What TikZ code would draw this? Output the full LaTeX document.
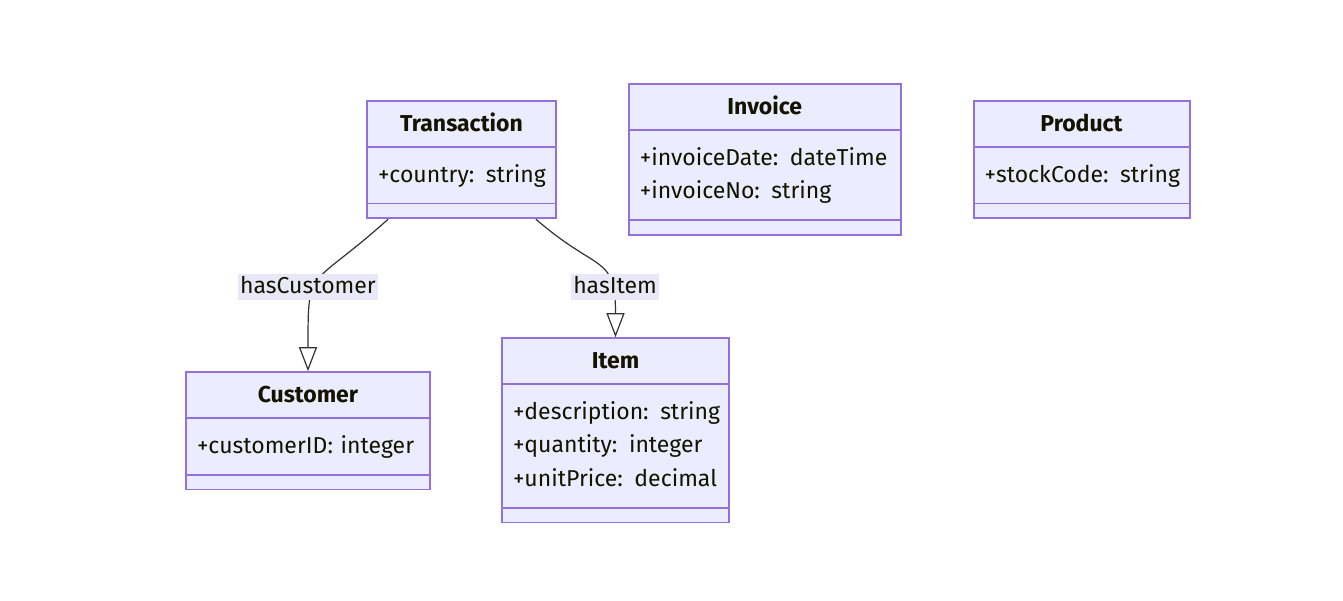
\documentclass[tikz,border=0pt]{standalone}
\usepackage{fontspec}
\setmainfont{Fira Sans}
\usetikzlibrary{arrows.meta, backgrounds, positioning, shapes.multipart}
\definecolor{classfill}{RGB}{236,236,255}
\definecolor{classline}{RGB}{147,112,219}
\definecolor{classtext}{RGB}{19,19,0}
\definecolor{relline}{RGB}{51,51,51}
\definecolor{relfill}{RGB}{232,232,248}
\newcommand{\titlestrut}{\rule[-4pt]{0pt}{15.5pt}}
\newcommand{\firstattr}{\rule{0pt}{14pt}}
\newcommand{\lastattr}{\rule[-7pt]{0pt}{7pt}}
\newcommand{\classtitle}[1]{\hspace*{\fill}\textbf{#1}\titlestrut\hspace*{\fill}}
\tikzstyle{umlclass}=[rectangle split, rectangle split parts=3, draw=classline, fill=classfill, line width=0.9pt, inner xsep=5.5pt, inner ysep=3.25pt, rectangle split empty part height=0pt, rectangle split empty part depth=0pt, align=left, text=classtext, font=\fontsize{11.5}{16.75}\selectfont]
\tikzstyle{rellabel}=[fill=relfill, inner xsep=1pt, inner ysep=0pt, text height=9.5pt, text depth=3.5pt, text=classtext, font=\fontsize{11.5}{14}\selectfont]
\tikzstyle{assoc}=[draw=relline, line width=0.6pt, -{Triangle[open, length=12pt, width=9pt]}]

\begin{document}
\begin{tikzpicture}[node distance=35.5pt]
      \useasboundingbox (0,0) rectangle (671.5pt,-300pt);

      \node[umlclass, text width=83.5pt, anchor=north] (trans) at (230.75pt,-50pt)
        {\classtitle{Transaction}
         \nodepart{second}\firstattr\mbox{+country: string}\lastattr
         \nodepart{third}};
      \node[umlclass, text width=125pt, right=of trans.north east, anchor=north west, yshift=8.5pt] (inv)
        {\classtitle{Invoice}
         \nodepart{second}\firstattr\mbox{+invoiceDate: dateTime}\\
                          \mbox{+invoiceNo: string}\lastattr
         \nodepart{third}};
      \node[umlclass, text width=97pt, right=of inv.north east, anchor=north west, yshift=-8.5pt] (prod)
        {\classtitle{Product}
         \nodepart{second}\firstattr\mbox{+stockCode: string}\lastattr
         \nodepart{third}};

      \node[umlclass, text width=111pt, below=76pt of trans.south, xshift=-76.75pt] (cust)
        {\classtitle{Customer}
         \nodepart{second}\firstattr\mbox{+customerID: integer}\lastattr
         \nodepart{third}};
      \node[umlclass, text width=102.5pt, below=59pt of trans.south, xshift=77pt] (item)
        {\classtitle{Item}
         \nodepart{second}\firstattr\mbox{+description: string}\\
                          \mbox{+quantity: integer}\\
                          \mbox{+unitPrice: decimal}\lastattr
         \nodepart{third}};

      \node[rellabel] (hascust) at ([xshift=-76.75pt, yshift=-34pt]trans.south) {hasCustomer};
      \node[rellabel] (hasitem) at ([xshift=76.75pt, yshift=-34pt]trans.south) {hasItem};

      \begin{scope}[on background layer]
        \coordinate (tc) at ([xshift=11pt]trans.south west);
        \coordinate (ti) at ([xshift=-10.5pt]trans.south east);
        \draw[assoc] (tc) to[out=-138, in=90, looseness=1.6] (cust.north);
        \draw[assoc] (ti) to[out=-41, in=90, looseness=1.5] (item.north);
      \end{scope}
    \end{tikzpicture}
\end{document}
